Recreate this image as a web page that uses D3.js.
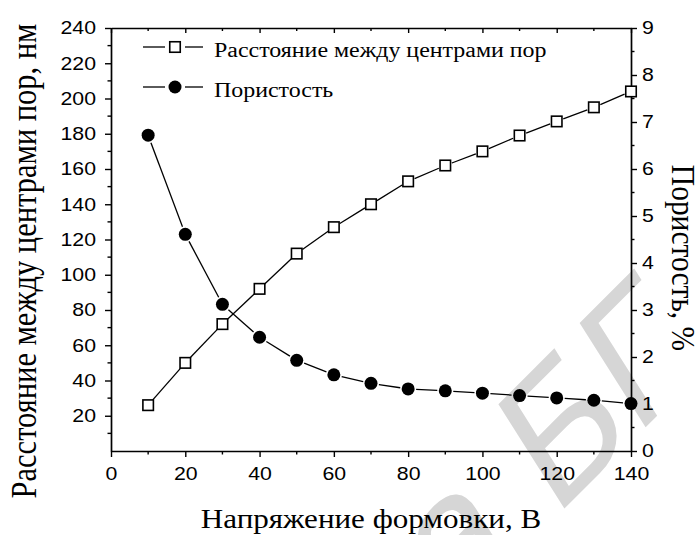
<!DOCTYPE html>
<html>
<head>
<meta charset="utf-8">
<script src="https://cdn.jsdelivr.net/npm/d3@7/dist/d3.min.js"></script>
<style>
  body { margin: 0; background: #fff; }
</style>
</head>
<body>
<script>
var width = 699
var height = 535

// values
var voltage = [10, 20, 30, 40, 50, 60, 70, 80, 90, 100, 110, 120, 130, 140]
var distance = [26, 50, 72, 92, 112, 127, 140, 153, 162, 170, 179, 187, 195, 204]
var porosity = [6.72, 4.61, 3.12, 2.42, 1.93, 1.62, 1.44, 1.32, 1.28, 1.23, 1.18, 1.13, 1.08, 1.01]

var xTicks = [0, 20, 40, 60, 80, 100, 120, 140]
var leftTicks = [20, 40, 60, 80, 100, 120, 140, 160, 180, 200, 220, 240]
var rightTicks = [0, 1, 2, 3, 4, 5, 6, 7, 8, 9]
var legendLabels = ['Расстояние между центрами пор', 'Пористость']

var xTitle = 'Напряжение формовки, В'
var leftTitle = 'Расстояние между центрами пор, нм'
var rightTitle = 'Пористость, %'

var plot = { left: 111, right: 631, top: 28, bottom: 451 }
var stretch = 1.15 // the original picture is a bit wider than tall

var x = d3.scaleLinear().domain([0, 140]).range([plot.left, plot.right])
var yL = d3.scaleLinear().domain([0, 240]).range([plot.bottom, plot.top])
var yR = d3.scaleLinear().domain([0, 9]).range([plot.bottom, plot.top])

var serif = '"Liberation Serif", "Times New Roman", serif'
var sans = '"Liberation Sans", Arial, sans-serif'

var svg = d3.select('body').append('svg')
  .attr('width', width)
  .attr('height', height)
  .style('display', 'block')
  .style('background', '#fff')

// watermark in the background
svg.append('text')
  .attr('transform', 'translate(451,622) rotate(-45) skewX(-12.7)')
  .style('font-family', sans)
  .style('font-size', '175px')
  .style('fill', '#d6d6d6')
  .text('а БГ')

function widen(sel) {
  sel.each(function() {
    var len = this.getComputedTextLength()
    if (len > 0) {
      d3.select(this)
        .attr('textLength', len * stretch)
        .attr('lengthAdjust', 'spacingAndGlyphs')
    }
  })
}

function styleAxis(g) {
  g.select('.domain').attr('stroke', '#000').attr('stroke-width', 1.7)
  g.selectAll('.tick line').attr('stroke', '#000').attr('stroke-width', 1.4)
  g.selectAll('.tick text')
    .style('font-family', sans)
    .style('font-size', '18.5px')
    .attr('fill', '#000')
    .call(widen)
}

function minorTicks(g, scale, values, orient, len) {
  g.selectAll('line.minor').data(values).enter().append('line')
    .attr('class', 'minor')
    .attr('stroke', '#000')
    .attr('stroke-width', 1.4)
    .each(function(d) {
      var el = d3.select(this)
      if (orient === 'v') {
        el.attr('x1', scale(d)).attr('x2', scale(d)).attr('y1', 0).attr('y2', len)
      } else {
        el.attr('y1', scale(d)).attr('y2', scale(d)).attr('x1', 0).attr('x2', len)
      }
    })
}

// bottom axis
var gx = svg.append('g')
  .attr('transform', 'translate(0,' + plot.bottom + ')')
  .call(d3.axisBottom(x).tickValues(xTicks).tickSize(6).tickSizeOuter(0).tickPadding(10))
styleAxis(gx)
minorTicks(gx, x, d3.range(10, 140, 20), 'v', 3.5)

// top axis, ticks pointing in, no labels
var gt = svg.append('g')
  .attr('transform', 'translate(0,' + plot.top + ')')
  .call(d3.axisBottom(x).tickValues(xTicks).tickSize(5).tickSizeOuter(0).tickFormat(''))
styleAxis(gt)
minorTicks(gt, x, d3.range(10, 140, 20), 'v', 3)

// left axis
var gl = svg.append('g')
  .attr('transform', 'translate(' + plot.left + ',0)')
  .call(d3.axisLeft(yL).tickValues(leftTicks).tickSize(6).tickSizeOuter(0).tickPadding(9))
styleAxis(gl)
minorTicks(gl, yL, d3.range(10, 240, 20), 'h', -3.5)

// right axis
var gr = svg.append('g')
  .attr('transform', 'translate(' + plot.right + ',0)')
  .call(d3.axisRight(yR).tickValues(rightTicks).tickSize(6).tickSizeOuter(0).tickPadding(5))
styleAxis(gr)
minorTicks(gr, yR, d3.range(0.5, 9, 1), 'h', 3.5)

// lines broken around the markers, like the original
function segments(xs, ys, gap) {
  var segs = []
  for (var i = 0; i < xs.length - 1; i++) {
    var dx = xs[i + 1] - xs[i]
    var dy = ys[i + 1] - ys[i]
    var len = Math.sqrt(dx * dx + dy * dy)
    if (len <= 2 * gap) continue
    var ux = dx / len
    var uy = dy / len
    segs.push({
      x1: xs[i] + ux * gap, y1: ys[i] + uy * gap,
      x2: xs[i + 1] - ux * gap, y2: ys[i + 1] - uy * gap
    })
  }
  return segs
}

var px = voltage.map(function(d) { return x(d) })
var pyD = distance.map(function(d) { return yL(d) })
var pyP = porosity.map(function(d) { return yR(d) })

svg.append('g').selectAll('line')
  .data(segments(px, pyD, 7))
  .enter().append('line')
  .attr('x1', (d) => d.x1).attr('y1', (d) => d.y1)
  .attr('x2', (d) => d.x2).attr('y2', (d) => d.y2)
  .attr('stroke', '#000').attr('stroke-width', 1.3)

svg.append('g').selectAll('line')
  .data(segments(px, pyP, 8))
  .enter().append('line')
  .attr('x1', (d) => d.x1).attr('y1', (d) => d.y1)
  .attr('x2', (d) => d.x2).attr('y2', (d) => d.y2)
  .attr('stroke', '#000').attr('stroke-width', 1.3)

var sq = 10.5

svg.append('g').selectAll('rect')
  .data(voltage)
  .enter().append('rect')
  .attr('x', (d) => x(d) - sq / 2)
  .attr('y', (d, i) => yL(distance[i]) - sq / 2)
  .attr('width', sq)
  .attr('height', sq)
  .attr('fill', '#fff')
  .attr('stroke', '#000')
  .attr('stroke-width', 1.6)

svg.append('g').selectAll('circle')
  .data(voltage)
  .enter().append('circle')
  .attr('cx', (d) => x(d))
  .attr('cy', (d, i) => yR(porosity[i]))
  .attr('r', 6.5)
  .attr('fill', '#000')

// legend
var legend = svg.append('g')
var legY = [47, 87]

legendLabels.forEach(function(label, i) {
  var g = legend.append('g').attr('transform', 'translate(0,' + legY[i] + ')')
  g.append('line').attr('x1', 143).attr('x2', 165).attr('stroke', '#000').attr('stroke-width', 1.3)
  g.append('line').attr('x1', 185).attr('x2', 203).attr('stroke', '#000').attr('stroke-width', 1.3)
  if (i === 0) {
    g.append('rect').attr('x', 175 - sq / 2).attr('y', -sq / 2).attr('width', sq).attr('height', sq)
      .attr('fill', '#fff').attr('stroke', '#000').attr('stroke-width', 1.6)
  } else {
    g.append('circle').attr('cx', 175).attr('cy', 0).attr('r', 6.5).attr('fill', '#000')
  }
  g.append('text')
    .attr('x', 214)
    .attr('y', 9.5)
    .style('font-family', serif)
    .style('font-size', '20.8px')
    .text(label)
    .call(widen)
})

// axis titles
svg.append('text')
  .attr('x', (plot.left + plot.right) / 2)
  .attr('y', 528)
  .attr('text-anchor', 'middle')
  .style('font-family', serif)
  .style('font-size', '27px')
  .text(xTitle)
  .call(widen)

svg.append('text')
  .attr('transform', 'translate(36,261) rotate(-90) scale(1,' + stretch + ')')
  .attr('text-anchor', 'middle')
  .style('font-family', serif)
  .style('font-size', '30.5px')
  .text(leftTitle)

svg.append('text')
  .attr('transform', 'translate(672,258) rotate(90) scale(1,' + stretch + ')')
  .attr('text-anchor', 'middle')
  .style('font-family', serif)
  .style('font-size', '29.5px')
  .text(rightTitle)
</script>
</body>
</html>
